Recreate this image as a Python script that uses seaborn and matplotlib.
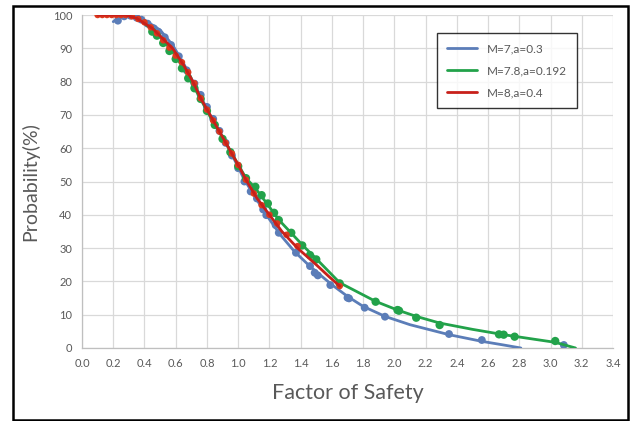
import matplotlib
matplotlib.use("Agg")
import matplotlib.pyplot as plt
import seaborn as sns
from matplotlib.patches import Rectangle

# fitted curves (lines)
blue_line_x = [0.20, 0.25, 0.32, 0.40, 0.50, 0.58, 0.65, 0.71, 0.82, 0.94, 1.04, 1.10, 1.18, 1.27,
               1.36, 1.46, 1.60, 1.70, 1.80, 1.94, 2.10, 2.35, 2.56, 2.70, 2.81]
blue_line_y = [98.0, 99.5, 100.0, 98.5, 95.5, 91.0, 85.5, 80.0, 70.0, 60.0, 50.5, 46.0, 40.0, 34.0,
               29.0, 24.5, 19.0, 15.5, 12.5, 9.5, 7.0, 4.0, 2.0, 0.9, 0.0]
green_line_x = [0.40, 0.50, 0.58, 0.65, 0.71, 0.82, 0.94, 1.05, 1.11, 1.19, 1.26, 1.34, 1.42, 1.50,
                1.65, 1.88, 2.02, 2.14, 2.29, 2.50, 2.70, 2.90, 3.03, 3.16]
green_line_y = [97.5, 93.5, 89.0, 84.0, 79.0, 69.5, 60.0, 51.0, 48.0, 43.0, 38.5, 34.5, 30.5, 26.8,
                19.6, 14.0, 11.4, 9.5, 7.5, 5.6, 4.0, 2.6, 1.7, 0.0]
red_line_x = [0.10, 0.20, 0.28, 0.35, 0.45, 0.58, 0.65, 0.71, 0.76, 0.82, 0.88, 0.94, 1.00, 1.05,
              1.12, 1.20, 1.28, 1.38, 1.50, 1.58, 1.65]
red_line_y = [100.0, 100.0, 100.0, 99.0, 96.0, 90.0, 85.0, 80.0, 75.0, 70.0, 65.0, 60.0, 55.0, 50.5,
              45.0, 40.0, 35.0, 30.0, 25.0, 21.5, 18.6]

# data points (markers)
blue_pts_x = [0.23, 0.27, 0.31, 0.35, 0.38, 0.42, 0.46, 0.49, 0.53, 0.57, 0.62, 0.67, 0.72, 0.76,
              0.80, 0.84, 0.88, 0.92, 0.96, 1.00, 1.04, 1.08, 1.12, 1.16, 1.18, 1.24, 1.26, 1.37,
              1.46, 1.49, 1.51, 1.59, 1.70, 1.71, 1.81, 1.94, 2.35, 2.56, 3.085]
blue_pts_y = [98.3, 99.6, 99.8, 99.2, 98.6, 97.4, 96.0, 94.9, 93.3, 91.0, 87.6, 83.4, 79.4, 76.0,
              72.4, 68.8, 65.2, 61.6, 57.8, 54.0, 50.0, 47.0, 44.9, 41.6, 39.9, 36.9, 34.6, 28.6,
              24.6, 22.6, 21.8, 18.9, 15.1, 14.9, 12.1, 9.4, 4.2, 2.4, 0.9]
green_pts_x = [0.45, 0.48, 0.52, 0.56, 0.60, 0.64, 0.68, 0.72, 0.76, 0.80, 0.85, 0.90, 0.95, 1.00,
               1.05, 1.11, 1.15, 1.19, 1.23, 1.26, 1.34, 1.41, 1.46, 1.50, 1.65, 1.88, 2.02, 2.03,
               2.14, 2.29, 2.67, 2.70, 2.77, 3.03]
green_pts_y = [95.0, 93.8, 91.6, 89.2, 86.8, 84.0, 81.0, 78.0, 74.8, 71.2, 67.0, 62.8, 58.8, 54.6,
               51.0, 48.4, 45.9, 43.4, 40.6, 38.4, 34.6, 30.8, 27.9, 26.6, 19.4, 13.9, 11.4, 11.2,
               9.1, 6.9, 4.1, 4.0, 3.4, 2.1]
red_pts_x = [0.10, 0.13, 0.16, 0.19, 0.22, 0.25, 0.28, 0.32, 0.36, 0.40, 0.44, 0.48, 0.52, 0.56,
             0.60, 0.64, 0.68, 0.72, 0.76, 0.80, 0.84, 0.88, 0.92, 0.96, 1.00, 1.05, 1.10, 1.15,
             1.20, 1.25, 1.31, 1.38, 1.65]
red_pts_y = [100.0, 100.0, 100.0, 100.0, 100.0, 100.0, 100.0, 99.6, 98.8, 97.8, 96.3, 94.5, 92.4, 90.2,
             87.8, 85.8, 82.8, 79.5, 75.0, 71.6, 68.3, 65.0, 61.6, 58.4, 55.0, 50.5, 46.4, 42.9,
             40.0, 37.4, 34.0, 30.6, 18.6]

labels = ["M=7,a=0.3", "M=7.8,a=0.192", "M=8,a=0.4"]
colors = ["#5B7DB8", "#22A24A", "#C8201A"]
marker_colors = ["#5B7DB8", "#22A24A", "#DD3A1E"]
marker_sizes = [32, 36, 22]

sns.set_style("white")
plt.rcParams["font.family"] = ["Lato", "DejaVu Sans"]

fig = plt.figure(figsize=(6.3, 4.21), dpi=100)
ax = fig.add_axes([82 / 630, 73 / 421, 531 / 630, 333 / 421])

series = [
    (blue_line_x, blue_line_y, blue_pts_x, blue_pts_y),
    (green_line_x, green_line_y, green_pts_x, green_pts_y),
    (red_line_x, red_line_y, red_pts_x, red_pts_y),
]
for i, (lx, ly, px, py) in enumerate(series):
    sns.scatterplot(x=px, y=py, ax=ax, color=marker_colors[i], s=marker_sizes[i],
                    edgecolor="none", zorder=3 + 2 * i)
    sns.lineplot(x=lx, y=ly, ax=ax, color=colors[i], linewidth=2.0, label=labels[i],
                 zorder=4 + 2 * i)

ax.set_xlim(0, 3.4)
ax.set_ylim(0, 100)
ax.set_xticks([i * 0.2 for i in range(18)])
ax.set_xticklabels([f"{i * 0.2:.1f}" for i in range(18)])
ax.set_yticks(range(0, 101, 10))
ax.grid(True, color="#D9D9D9", linewidth=0.9, zorder=0)
ax.set_axisbelow(True)
for side in ["top", "right"]:
    ax.spines[side].set_visible(False)
for side in ["left", "bottom"]:
    ax.spines[side].set_color("#BFBFBF")
    ax.spines[side].set_linewidth(0.9)
ax.tick_params(axis="both", direction="out", length=4, width=0.8, color="#BFBFBF",
               labelsize=8, labelcolor="#595959", pad=3)
ax.set_xlabel("Factor of Safety", fontsize=15.5, color="#595959", labelpad=10)
ax.set_ylabel("Probability(%)", fontsize=14, color="#595959", labelpad=10)

leg = ax.legend(loc="upper left", bbox_to_anchor=(0.668, 0.946), fontsize=8.5,
                frameon=True, fancybox=False, edgecolor="black", handlelength=2.6,
                labelspacing=0.95, borderpad=0.85, borderaxespad=0)
leg.get_frame().set_linewidth(1.0)
for t in leg.get_texts():
    t.set_color("#595959")

fig.patches.append(Rectangle((13 / 630, 1.5 / 421), 615 / 630, 414 / 421, transform=fig.transFigure,
                             fill=False, edgecolor="black", linewidth=1.8))

fig.savefig("out.png", dpi=100)
